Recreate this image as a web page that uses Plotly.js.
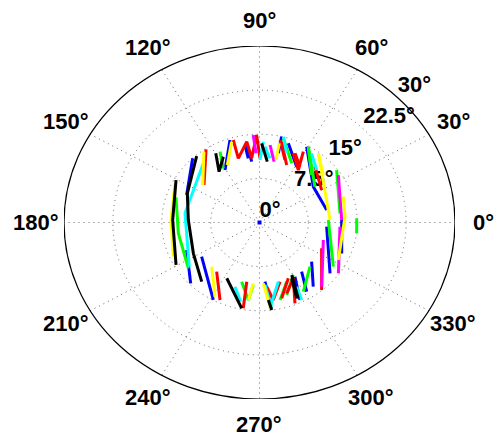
<!DOCTYPE html>
<html><head><meta charset="utf-8">
<script src="https://cdn.plot.ly/plotly-3.0.1.min.js"></script>
<style>html,body{margin:0;padding:0;background:#fff}#chart{width:495px;height:437px}</style>
</head><body><div id="chart"></div>
<script>
// ---- chart values (degrees) ----
const rMax = 30;
const gridRadii = [7.5, 15, 22.5];
const radialLabelValues = [0, 7.5, 15, 22.5, 30];
const radialLabels = ['0°', '7.5°', '15°', '22.5°', '30°'];
const angleTicks = [0, 30, 60, 90, 120, 150, 180, 210, 240, 270, 300, 330];
const angleLabels = ['0°', '30°', '60°', '90°', '120°', '150°', '180°', '210°', '240°', '270°', '300°', '330°'];

const originTheta = [0];
const originR = [0];

const blueTheta = [133.2,157.3,null, 202.7,224.4,null, 213.2,241.7,null, 107.9,120.7,null, 98.3,96.6,null, 76.2,76.9,null, 71.8,59.0,null, 60.7,36.4,11.6,null, 356.1,321.4,null, 1.9,337.4,null, 320.2,307.1,null, 307.7,301.6,null, 300.6,295.2,null, 274.8,276.7,null, 99.6,99.0];
const blueR = [14.98,12.12,null, 12.12,14.78,null, 10.61,14.95,null, 14.73,10.37,null, 13.60,10.41,null, 12.11,14.98,null, 14.17,11.07,null, 14.78,10.26,10.53,null, 10.33,13.85,null, 12.62,13.66,null, 10.41,13.68,null, 10.57,13.81,null, 10.70,14.56,null, 10.09,13.83,null, 13.36,11.05];

const greenTheta = [161.5,188.4,215.5,null, 116.7,121.1,null, 254.8,262.6,264.9,null, 283.5,292.5,null, 299.8,315.9,null, 2.3,326.5,null, 37.0,7.2,null, 59.8,35.6,null, 75.7,63.8,null, 2.7,353.0,null, 59.3,45.2,null, 288.7,300.2];
const greenR = [13.51,12.59,13.41,null, 13.48,10.75,null, 10.43,13.28,10.66,null, 13.54,10.89,null, 13.55,10.79,null, 10.57,13.59,null, 14.82,12.45,null, 14.91,10.47,null, 14.77,11.21,null, 14.93,15.02,null, 14.67,11.37,null, 13.01,10.32];

const redTheta = [123.4,143.2,null, 106.0,106.6,98.1,96.3,91.7,89.6,null, 77.3,69.8,null, 66.2,56.3,60.8,null, 48.1,30.0,null, 335.3,309.7,null, 289.1,298.7,291.6,null, 275.8,279.1,287.4,null, 231.8,245.3,null, 259.0,260.3,null, 76.1,66.9,null, 65.1,56.8,null, 284.8,295.0];
const redR = [14.90,10.64,null, 14.59,11.38,13.87,10.98,14.88,10.91,null, 14.37,11.32,null, 12.85,10.73,13.79,null, 12.75,11.02,null, 10.50,14.92,null, 12.74,10.82,14.78,null, 10.97,13.34,10.54,null, 10.63,14.50,null, 10.25,14.79,null, 14.15,10.62,null, 12.96,11.33,null, 13.32,10.46];

const cyanTheta = [129.5,172.2,214.9,null, 89.6,87.5,null, 75.9,70.5,null, 251.0,257.9,null, 274.5,277.3,null, 297.6,296.2,null, 55.8,45.5,null, 86.3,81.6,null, 276.3,286.0];
const cyanR = [13.40,11.54,13.13,null, 10.62,13.75,null, 15.04,12.48,null, 11.54,13.77,null, 10.65,14.71,null, 12.31,14.67,null, 14.22,12.51,null, 12.91,11.03,null, 14.67,10.47];

const magentaTheta = [93.7,92.6,null, 83.0,77.8,null, 343.1,311.2,null, 33.7,1.9,null, 356.7,324.5];
const magentaR = [14.90,11.77,null, 13.27,10.58,null, 10.24,14.49,null, 14.54,12.62,null, 12.37,14.87];

const yellowTheta = [152.8,178.2,203.7,null, 125.3,143.8,null, 107.3,116.8,null, 76.6,77.3,null, 52.5,2.2,null, 18.9,4.3,332.2,null, 225.7,241.6,null, 264.8,262.6,null, 273.3,276.4,null, 52.5,39.5];
const yellowR = [14.58,13.59,14.44,null, 14.75,10.80,null, 14.39,10.95,null, 10.92,13.80,null, 14.83,10.83,null, 13.59,13.16,13.67,null, 10.50,14.34,null, 10.38,13.28,null, 10.36,14.40,null, 14.82,12.69];

const blackTheta = [150.6,178.2,209.4,null, 130.5,155.9,177.8,207.3,228.6,null, 119.7,125.7,116.4,null, 88.6,83.4,null, 242.1,259.4,null, 275.9,277.2,null, 297.5,293.9,null, 299.0,294.8];
const blackR = [14.70,13.33,14.70,null, 14.85,12.13,10.93,11.42,13.41,null, 13.55,10.63,12.48,null, 13.46,10.41,null, 10.73,14.84,null, 13.24,14.99,null, 10.70,14.09,null, 10.20,14.19];

// ---- helpers ----
const rad = d => d * Math.PI / 180;
const toX = (th, r) => th.map((t, i) => (t === null || r[i] === null) ? null : r[i] * Math.cos(rad(t)));
const toY = (th, r) => th.map((t, i) => (t === null || r[i] === null) ? null : r[i] * Math.sin(rad(t)));

const labelFont = {family: 'Liberation Sans, Arial, sans-serif', size: 22, color: '#000', weight: 700};
const gridColor = '#666666';
const gridDash = '1px,4px';

const W = 495, H = 437;
const xDom = [64 / W, 455 / W], yDom = [38 / H, 391 / H];
const toPaperX = x => xDom[0] + (x + rMax) / (2 * rMax) * (xDom[1] - xDom[0]);
const toPaperY = y => yDom[0] + (y + rMax) / (2 * rMax) * (yDom[1] - yDom[0]);

const traces = [];
// radial labels (drawn under the data lines)
const labelAngle = 45;
traces.push({
  type: 'scatter', mode: 'text', hoverinfo: 'skip', showlegend: false, cliponaxis: false,
  x: radialLabelValues.map(r => r * Math.cos(rad(labelAngle))),
  y: radialLabelValues.map(r => r * Math.sin(rad(labelAngle))),
  text: radialLabels.map(t => '<b>' + t + '</b>'), textposition: 'top right', textfont: labelFont
});

const series = [
  [blueTheta, blueR, '#0000ff'],
  [greenTheta, greenR, '#00ff00'],
  [redTheta, redR, '#ff0000'],
  [cyanTheta, cyanR, '#00ffff'],
  [magentaTheta, magentaR, '#ff00ff'],
  [yellowTheta, yellowR, '#ffff00'],
  [blackTheta, blackR, '#000000']
];
series.forEach(([th, r, c]) => traces.push({
  type: 'scatter', mode: 'lines', x: toX(th, r), y: toY(th, r),
  line: {color: c, width: 3}, connectgaps: false, showlegend: false, hoverinfo: 'skip'
}));
traces.push({
  type: 'scatter', mode: 'markers', x: toX(originTheta, originR), y: toY(originTheta, originR),
  marker: {color: '#0000ff', size: 4, symbol: 'square'}, showlegend: false, hoverinfo: 'skip'
});

// ---- grid shapes ----
const shapes = [];
gridRadii.forEach(r => shapes.push({type: 'circle', xref: 'x', yref: 'y', x0: -r, x1: r, y0: -r, y1: r,
  line: {color: gridColor, width: 1, dash: gridDash}, layer: 'below'}));
angleTicks.forEach(a => shapes.push({type: 'line', xref: 'x', yref: 'y', x0: 0, y0: 0,
  x1: rMax * Math.cos(rad(a)), y1: rMax * Math.sin(rad(a)),
  line: {color: gridColor, width: 1, dash: gridDash}, layer: 'below'}));
shapes.push({type: 'circle', xref: 'x', yref: 'y', x0: -rMax, x1: rMax, y0: -rMax, y1: rMax,
  line: {color: '#000', width: 1.2}, layer: 'above'});

const labelR = rMax * 1.145;
const annotations = angleTicks.map((a, i) => ({
  x: toPaperX(labelR * Math.cos(rad(a))), y: toPaperY(labelR * Math.sin(rad(a))), xref: 'paper', yref: 'paper',
  text: '<b>' + angleLabels[i] + '</b>', showarrow: false, xanchor: 'center', yanchor: 'middle', font: labelFont
}));

const layout = {
  width: W, height: H, margin: {l: 0, r: 0, t: 0, b: 0},
  paper_bgcolor: '#fff', plot_bgcolor: 'rgba(0,0,0,0)', showlegend: false,
  xaxis: {range: [-rMax, rMax], domain: xDom, visible: false, fixedrange: true},
  yaxis: {range: [-rMax, rMax], domain: yDom, visible: false, fixedrange: true},
  shapes, annotations
};
Plotly.newPlot('chart', traces, layout, {staticPlot: true, displayModeBar: false});
</script></body></html>
